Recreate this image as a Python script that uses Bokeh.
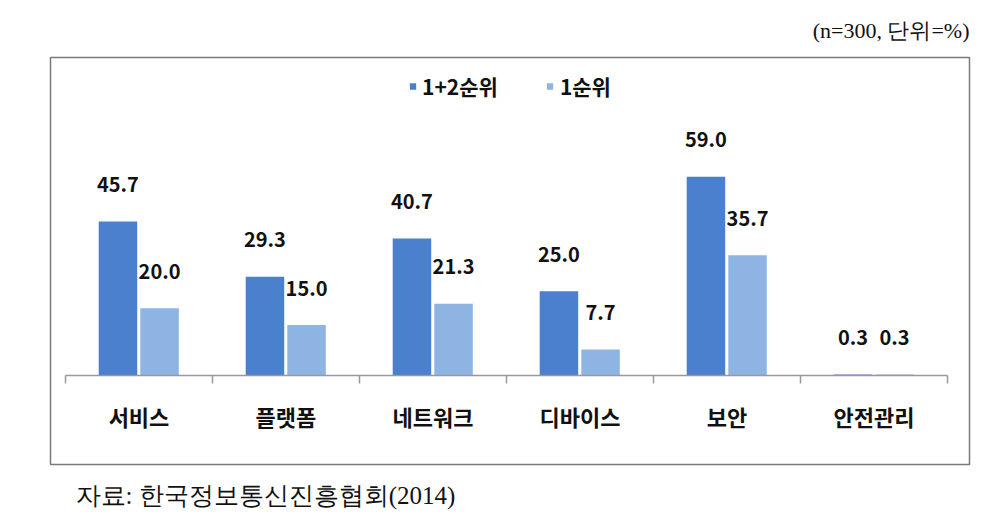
from bokeh.plotting import figure
from bokeh.models import (ColumnDataSource, Range1d, LinearAxis, FixedTicker, Title)
from bokeh.transform import dodge
from bokeh.core.properties import value
from bokeh.embed import file_html
from bokeh.resources import INLINE

categories = ["서비스", "플랫폼", "네트워크", "디바이스", "보안", "안전관리"]
top12 = [45.7, 29.3, 40.7, 25.0, 59.0, 0.3]
top1 = [20.0, 15.0, 21.3, 7.7, 35.7, 0.3]
series_names = ["1+2순위", "1순위"]
note_text = "(n=300, 단위=%)"
source_text = "자료: 한국정보통신진흥협회(2014)"

idx = list(range(len(categories)))
src = ColumnDataSource(dict(
    idx=idx, cat=categories, a=top12, b=top1,
    la=[f"{v:.1f}" for v in top12], lb=[f"{v:.1f}" for v in top1],
))

DARK = "#4A80CD"
LIGHT = "#8DB4E3"
SANS = "Noto Sans CJK KR"
SERIF = "Liberation Serif"

p = figure(width=1008, height=532, output_backend="svg", toolbar_location=None,
           x_range=Range1d(-0.602, 5.65), y_range=Range1d(-26.4, 94.4),
           x_axis_location=None, y_axis_location=None,
           min_border_left=50, min_border_right=39, min_border_top=57, min_border_bottom=68)
p.outline_line_color = "#7a7a7a"
p.outline_line_width = 1.5
p.background_fill_color = "white"
p.border_fill_color = "white"
p.grid.visible = False

p.vbar(x=dodge("idx", -0.143, range=p.x_range), top="a", width=0.262, source=src,
       fill_color=DARK, line_color=None, legend_label=series_names[0])
p.vbar(x=dodge("idx", 0.14, range=p.x_range), top="b", width=0.262, source=src,
       fill_color=LIGHT, line_color=None, legend_label=series_names[1])

p.text(x=dodge("idx", -0.143, range=p.x_range), y="a", text="la", source=src,
       text_align="center", text_baseline="middle", y_offset=-37,
       text_font=value(SANS), text_font_style="bold", text_font_size="20px", text_color="#111111")
p.text(x=dodge("idx", 0.14, range=p.x_range), y="b", text="lb", source=src,
       text_align="center", text_baseline="middle", y_offset=-37,
       text_font=value(SANS), text_font_style="bold", text_font_size="20px", text_color="#111111")

xaxis = LinearAxis(fixed_location=0, bounds=(-0.5, len(categories) - 0.5))
xaxis.ticker = FixedTicker(ticks=idx, minor_ticks=[i - 0.5 for i in range(len(categories) + 1)])
xaxis.major_label_overrides = {i: c for i, c in enumerate(categories)}
xaxis.major_tick_out = 0
xaxis.major_tick_in = 0
xaxis.minor_tick_out = 8
xaxis.minor_tick_in = 0
xaxis.minor_tick_line_color = "#999999"
xaxis.minor_tick_line_width = 1.5
xaxis.axis_line_color = "#999999"
xaxis.axis_line_width = 1.5
xaxis.major_label_standoff = 16
xaxis.major_label_text_font = SANS
xaxis.major_label_text_font_style = "bold"
xaxis.major_label_text_font_size = "22px"
xaxis.major_label_text_color = "#111111"
p.add_layout(xaxis, "below")

lg = p.legend[0]
lg.orientation = "horizontal"
lg.location = "top_center"
lg.border_line_color = None
lg.background_fill_alpha = 0
lg.label_text_font = SANS
lg.label_text_font_style = "bold"
lg.label_text_font_size = "21px"
lg.label_text_color = "#111111"
lg.glyph_width = 8
lg.glyph_height = 8
lg.label_standoff = 6
lg.spacing = 48
lg.margin = 14
lg.padding = 10

p.add_layout(Title(text=note_text, align="right", text_font=SERIF, text_font_size="22px",
                   text_font_style="normal", text_color="#111111", standoff=29), "above")
p.add_layout(Title(text=source_text, align="left", offset=25, text_font=SERIF,
                   text_font_size="25px", text_font_style="normal", text_color="#111111",
                   standoff=31), "below")

open("out.html", "w").write(file_html(p, INLINE))
